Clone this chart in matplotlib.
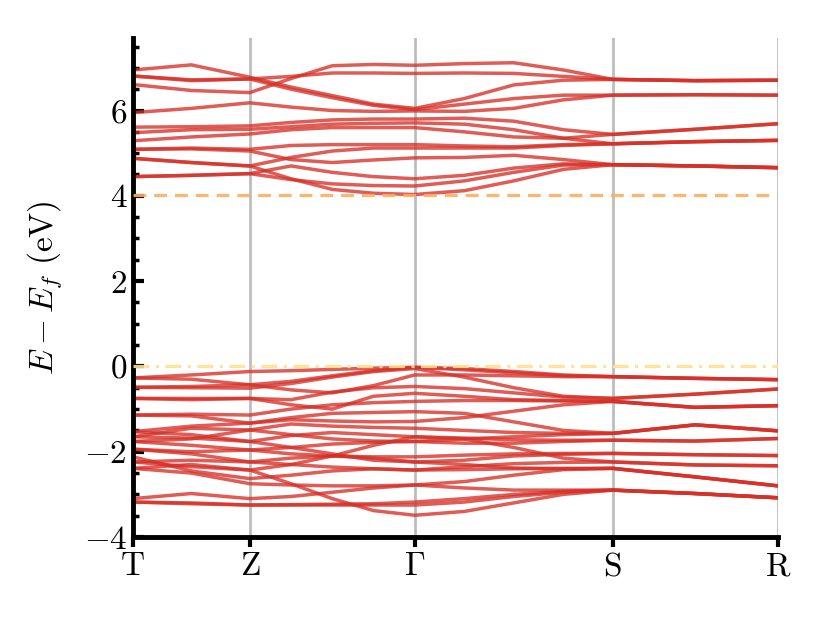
import numpy as np
import matplotlib
matplotlib.use("Agg")
import matplotlib.pyplot as plt
from matplotlib.ticker import MultipleLocator

plt.rcParams['mathtext.fontset'] = 'cm'
plt.rcParams['font.family'] = 'serif'
plt.rcParams['font.serif'] = ['cmr10', 'DejaVu Serif']
plt.rcParams['axes.formatter.use_mathtext'] = True

# --- path through the Brillouin zone ---
node_labels = ["T", "Z", r"\Gamma", "S", "R"]
node_dist = [0.0, 1.17, 2.82, 4.80, 6.45]
# samples per segment (T-Z, Z-G, G-S, S-R)
seg_samples = [2, 4, 4, 2]

e_cbm = 4.03   # conduction band minimum (dashed)
e_vbm = 0.0    # valence band maximum (dash-dot)

# energies (eV) at: T, .., Z, .., .., .., G, .., .., .., S, .., R
cond_bands = [
    [6.95, 7.07, 6.78, 6.55, 6.35, 6.15, 6.05, 6.28, 6.60, 6.71, 6.73, 6.70, 6.71],
    [6.81, 6.70, 6.74, 6.50, 6.30, 6.12, 6.02, 6.15, 6.28, 6.36, 6.36, 6.37, 6.36],
    [6.61, 6.47, 6.42, 6.75, 7.05, 7.08, 7.06, 7.10, 7.12, 6.95, 6.73, 6.70, 6.71],
    [6.81, 6.72, 6.74, 6.80, 6.88, 6.88, 6.87, 6.88, 6.87, 6.80, 6.73, 6.70, 6.71],
    [5.95, 6.05, 6.18, 6.08, 6.00, 5.98, 5.99, 5.98, 6.05, 6.25, 6.36, 6.37, 6.36],
    [5.61, 5.62, 5.64, 5.72, 5.78, 5.80, 5.80, 5.82, 5.75, 5.55, 5.44, 5.56, 5.69],
    [5.48, 5.55, 5.56, 5.62, 5.68, 5.70, 5.71, 5.68, 5.55, 5.35, 5.22, 5.27, 5.30],
    [5.29, 5.38, 5.45, 5.55, 5.60, 5.60, 5.60, 5.50, 5.38, 5.35, 5.44, 5.56, 5.69],
    [5.09, 5.12, 5.09, 5.18, 5.20, 5.20, 5.20, 5.17, 5.15, 5.20, 5.22, 5.27, 5.30],
    [4.88, 4.78, 4.70, 4.90, 5.05, 5.12, 5.12, 5.12, 5.12, 5.18, 5.22, 5.27, 5.30],
    [5.09, 5.10, 5.05, 4.85, 4.78, 4.84, 4.89, 4.90, 4.95, 4.85, 4.73, 4.70, 4.66],
    [4.45, 4.48, 4.52, 4.70, 4.55, 4.45, 4.40, 4.48, 4.65, 4.75, 4.73, 4.70, 4.66],
    [4.45, 4.48, 4.52, 4.38, 4.28, 4.24, 4.23, 4.35, 4.55, 4.72, 4.73, 4.70, 4.66],
    [4.88, 4.78, 4.70, 4.40, 4.15, 4.06, 4.03, 4.12, 4.35, 4.62, 4.73, 4.70, 4.66],
]

val_bands = [
    [-0.27, -0.20, -0.12, -0.10, -0.07, -0.04, -0.02, -0.05, -0.12, -0.20, -0.24, -0.28, -0.31],
    [-0.27, -0.30, -0.43, -0.35, -0.22, -0.10, -0.02, -0.08, -0.15, -0.22, -0.24, -0.28, -0.31],
    [-0.49, -0.50, -0.51, -0.40, -0.25, -0.12, -0.05, -0.25, -0.50, -0.70, -0.75, -0.65, -0.53],
    [-0.49, -0.47, -0.43, -0.55, -0.62, -0.45, -0.20, -0.20, -0.22, -0.24, -0.24, -0.28, -0.31],
    [-0.75, -0.75, -0.75, -0.78, -0.60, -0.50, -0.47, -0.52, -0.62, -0.72, -0.75, -0.65, -0.53],
    [-0.75, -0.78, -0.75, -0.90, -1.00, -0.70, -0.63, -0.70, -0.78, -0.80, -0.82, -0.96, -0.92],
    [-1.14, -1.12, -1.14, -1.00, -0.90, -0.85, -0.82, -0.80, -0.80, -0.81, -0.82, -0.96, -0.92],
    [-1.14, -1.16, -1.33, -1.20, -1.10, -1.08, -1.06, -1.10, -1.30, -1.50, -1.57, -1.37, -1.51],
    [-1.53, -1.40, -1.33, -1.25, -1.28, -1.30, -1.29, -1.20, -1.05, -0.90, -0.82, -0.96, -0.92],
    [-1.65, -1.45, -1.49, -1.35, -1.40, -1.43, -1.45, -1.50, -1.55, -1.57, -1.57, -1.37, -1.51],
    [-1.53, -1.60, -1.76, -1.62, -1.55, -1.60, -1.65, -1.68, -1.72, -1.73, -1.73, -1.75, -1.69],
    [-1.76, -1.70, -1.49, -1.60, -1.70, -1.75, -1.76, -1.70, -1.65, -1.60, -1.57, -1.37, -1.51],
    [-1.76, -1.85, -1.96, -1.90, -1.82, -1.78, -1.76, -1.80, -1.80, -1.76, -1.73, -1.75, -1.69],
    [-1.94, -2.00, -1.96, -2.05, -2.10, -2.12, -2.12, -2.08, -2.05, -2.04, -2.04, -2.07, -2.09],
    [-1.94, -2.05, -2.24, -2.15, -2.10, -2.15, -2.24, -2.20, -2.10, -2.06, -2.04, -2.07, -2.09],
    [-2.24, -2.20, -2.24, -2.30, -2.36, -2.40, -2.43, -2.35, -2.28, -2.25, -2.24, -2.31, -2.33],
    [-2.39, -2.30, -2.43, -2.30, -2.10, -1.85, -1.65, -1.70, -1.90, -2.15, -2.24, -2.31, -2.33],
    [-2.12, -2.45, -2.63, -2.55, -2.45, -2.40, -2.43, -2.42, -2.40, -2.39, -2.39, -2.59, -2.80],
    [-2.39, -2.50, -2.75, -2.78, -2.80, -2.80, -2.78, -2.70, -2.55, -2.42, -2.39, -2.59, -2.80],
    [-3.10, -2.98, -3.10, -3.05, -2.95, -2.85, -2.78, -2.85, -2.90, -2.90, -2.90, -2.98, -3.08],
    [-3.18, -3.22, -3.25, -3.24, -3.23, -3.22, -3.18, -3.10, -3.00, -2.93, -2.90, -2.98, -3.08],
    [-3.18, -3.20, -3.25, -3.25, -3.25, -3.25, -3.25, -3.18, -3.05, -2.95, -2.90, -2.98, -3.08],
    [-2.24, -2.35, -2.43, -2.75, -3.10, -3.38, -3.49, -3.40, -3.20, -3.00, -2.90, -2.98, -3.08],
    [-1.65, -1.68, -1.76, -1.90, -2.05, -2.20, -2.24, -2.30, -2.38, -2.40, -2.39, -2.59, -2.80],
]

# k positions of the samples along the path
k = [node_dist[0]]
for i, n in enumerate(seg_samples):
    k += list(np.linspace(node_dist[i], node_dist[i + 1], n + 1)[1:])
k = np.array(k)

band_col = "#d73027"

fig = plt.figure(figsize=(8.3, 6.23), dpi=100)
ax = fig.add_axes([0.160, 0.138, 0.777, 0.801])

for xv in node_dist[1:]:
    ax.axvline(xv, color="#bdbdbd", lw=2.0, zorder=1)

for b in cond_bands + val_bands:
    ax.plot(k, b, color=band_col, lw=2.5, alpha=0.78, zorder=2,
            solid_joinstyle="round", solid_capstyle="round")

ax.axhline(e_cbm, color="#fdae61", lw=2.3, ls=(0, (4, 2.5)), alpha=0.9, zorder=3)
ax.axhline(e_vbm, color="#fee090", lw=2.3, ls=(0, (5, 2, 1, 2)), alpha=0.9, zorder=3)

ax.set_xlim(node_dist[0], node_dist[-1])
ax.set_ylim(-4, 7.7)
ax.set_xticks(node_dist)
ax.set_xticklabels([r"$\mathrm{%s}$" % s for s in node_labels])
ax.set_yticks([-4, -2, 0, 2, 4, 6])
ax.set_yticklabels([r"$%d$" % v for v in [-4, -2, 0, 2, 4, 6]])
ax.yaxis.set_minor_locator(MultipleLocator(0.5))

for s in ["top", "right"]:
    ax.spines[s].set_visible(False)
for s in ["left", "bottom"]:
    ax.spines[s].set_linewidth(3.5)

ax.tick_params(axis="x", direction="out", length=7, width=3, labelsize=24, pad=4)
ax.tick_params(axis="y", which="major", direction="in", length=8, width=3, labelsize=24, pad=4)
ax.tick_params(axis="y", which="minor", direction="in", length=4, width=2.5)

ax.set_ylabel(r"$E - E_f\ (\mathrm{eV})$", fontsize=24, labelpad=14)

fig.savefig("out.png", dpi=100)
